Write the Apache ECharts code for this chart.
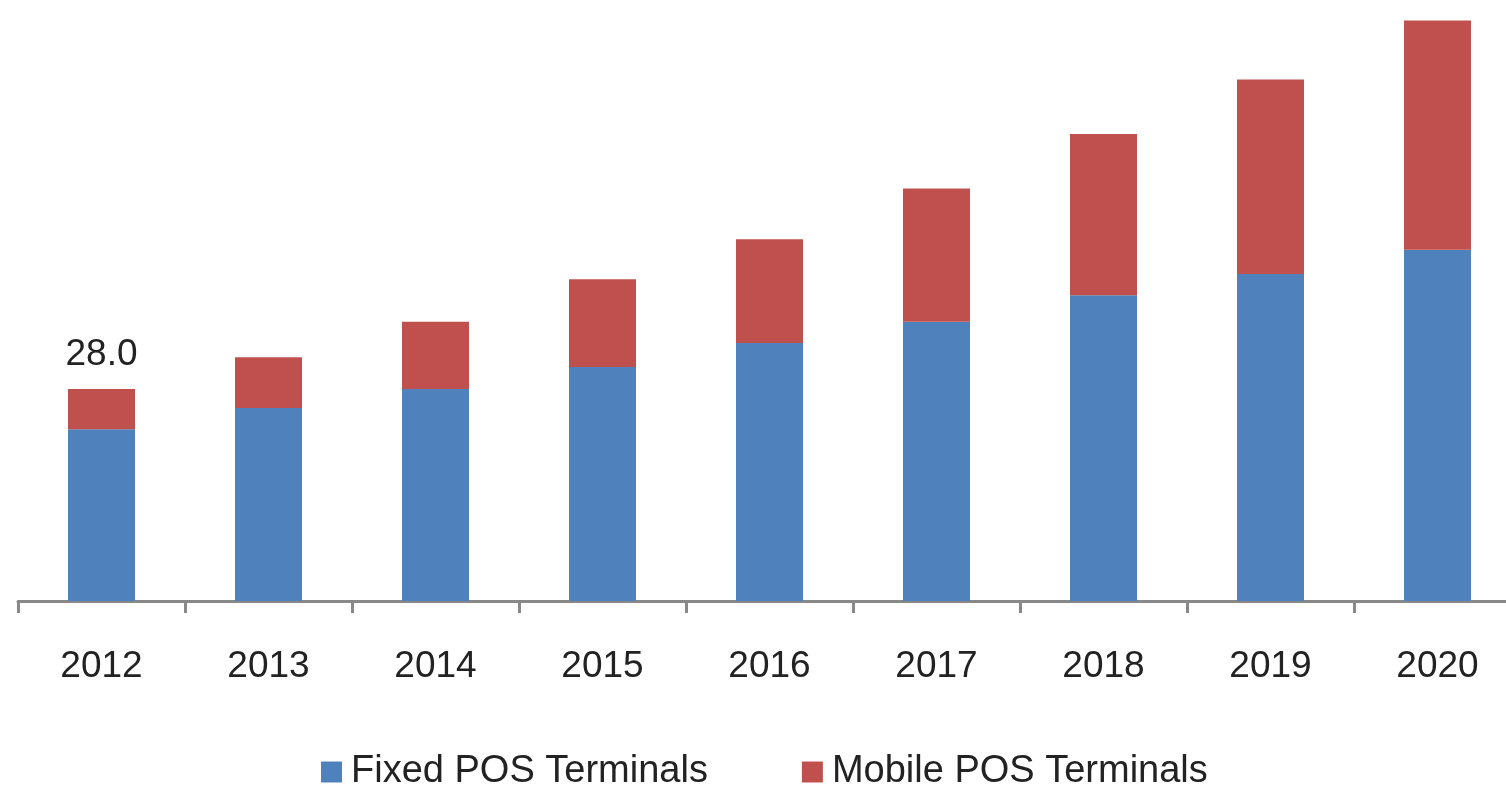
<!DOCTYPE html>
<html>
<head>
<meta charset="utf-8">
<script src="https://cdn.jsdelivr.net/npm/echarts@6/dist/echarts.min.js"></script>
<style>
  html, body { margin: 0; padding: 0; background: #fff; }
  #chart { width: 1506px; height: 785px; }
</style>
</head>
<body>
<div id="chart"></div>
<script>
// values (totals: 28.0 in 2012)
const years = ['2012', '2013', '2014', '2015', '2016', '2017', '2018', '2019', '2020'];
const fixedPos = [22.7, 25.5, 28.0, 30.9, 34.1, 36.9, 40.4, 43.2, 46.4];
const mobilePos = [5.3, 6.7, 8.9, 11.6, 13.7, 17.6, 21.3, 25.7, 30.3];
const labelShown = ['28.0', '', '', '', '', '', '', '', ''];

const font = 'Liberation Sans, Arial, sans-serif';

const myChart = echarts.init(document.getElementById('chart'));
myChart.setOption({
  animation: false,
  grid: {
    left: 18,
    top: 3,
    width: 1503,
    height: 598,
    containLabel: false,
    outerBoundsMode: 'none'
  },
  legend: {
    data: ['Fixed POS Terminals', 'Mobile POS Terminals'],
    left: 316,
    top: 748,
    itemWidth: 21,
    itemHeight: 21,
    itemGap: 94,
    icon: 'rect',
    textStyle: {
      fontFamily: font,
      fontSize: 38,
      color: '#222',
      padding: [0, 0, 0, 4]
    }
  },
  xAxis: {
    type: 'category',
    data: years,
    axisLine: {
      lineStyle: { color: '#888', width: 3 }
    },
    axisTick: {
      show: true,
      length: 12,
      lineStyle: { color: '#888', width: 3 }
    },
    axisLabel: {
      margin: 47,
      fontFamily: font,
      fontSize: 37,
      color: '#222'
    }
  },
  yAxis: {
    type: 'value',
    min: 0,
    max: 79,
    show: false,
    splitLine: { show: false }
  },
  series: [
    {
      name: 'Fixed POS Terminals',
      type: 'bar',
      stack: 'total',
      barWidth: 67,
      data: fixedPos,
      itemStyle: { color: '#4F81BD' }
    },
    {
      name: 'Mobile POS Terminals',
      type: 'bar',
      stack: 'total',
      barWidth: 67,
      data: mobilePos,
      itemStyle: { color: '#C0504D' },
      label: {
        show: true,
        position: 'top',
        distance: 16,
        fontFamily: font,
        fontSize: 37,
        color: '#222',
        formatter: (p) => labelShown[p.dataIndex]
      }
    }
  ]
});
</script>
</body>
</html>
